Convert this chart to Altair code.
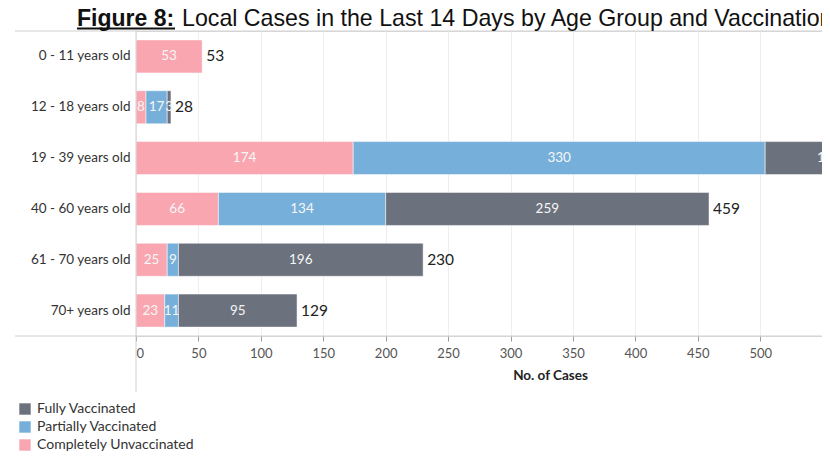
import altair as alt
import pandas as pd

ages = ["0 - 11 years old", "12 - 18 years old", "19 - 39 years old",
        "40 - 60 years old", "61 - 70 years old", "70+ years old"]
unvaccinated = [53, 8, 174, 66, 25, 23]
partially = [0, 17, 330, 134, 9, 11]
fully = [0, 3, 102, 259, 196, 95]

statuses = ["Fully Vaccinated", "Partially Vaccinated", "Completely Unvaccinated"]
colors = ["#6b717d", "#76b0da", "#f9a6b1"]
stack_order = {"Completely Unvaccinated": 0, "Partially Vaccinated": 1, "Fully Vaccinated": 2}

rows = []
for i, a in enumerate(ages):
    for s, vals in (("Completely Unvaccinated", unvaccinated),
                    ("Partially Vaccinated", partially),
                    ("Fully Vaccinated", fully)):
        if vals[i] > 0:
            rows.append({"age": a, "status": s, "value": vals[i], "ord": stack_order[s]})
df = pd.DataFrame(rows)

W, H = 686, 305
XMAX = W / 1.2484

xscale = alt.Scale(domain=[0, XMAX], nice=False, zero=True)
yscale = alt.Scale(domain=ages, paddingInner=0.35, paddingOuter=0.175)

base = alt.Chart(df)

bars = base.mark_bar(stroke="white", strokeWidth=0.5).encode(
    y=alt.Y("age:N", scale=yscale, sort=ages,
            axis=alt.Axis(title=None, domain=False, ticks=False, labelPadding=6,
                          labelFont="Lato", labelFontSize=13.5, labelColor="#333333",
                          grid=False)),
    x=alt.X("value:Q", stack="zero", scale=xscale,
            axis=alt.Axis(values=list(range(0, 551, 50)), title="No. of Cases",
                          domain=False, tickSize=5, tickColor="#9a9a9a",
                          labelFont="Lato", labelFontSize=13, labelColor="#555555",
                          labelFlush=True, labelPadding=6,
                          gridColor="#eeeeee", grid=True,
                          titleFont="Lato", titleFontSize=13.5, titleFontWeight="bold",
                          titleColor="#222222", titleX=414, titleY=43,
                          titleBaseline="alphabetic")),
    color=alt.Color("status:N", scale=alt.Scale(domain=statuses, range=colors),
                    legend=alt.Legend(title=None, orient="none", legendX=-118, legendY=371,
                                      symbolType="square", symbolSize=130,
                                      symbolStrokeWidth=0, labelFont="Lato",
                                      labelFontSize=14, labelColor="#333333",
                                      rowPadding=4, labelOffset=5)),
    order=alt.Order("ord:Q", sort="ascending"),
)

seg_labels = base.transform_stack(
    stack="value", groupby=["age"], as_=["x0", "x1"],
    sort=[alt.SortField("ord", order="ascending")]
).transform_calculate(mid="(datum.x0 + datum.x1) / 2").mark_text(
    color="#f6f6f6", font="Lato", fontSize=13.5, align="center", baseline="middle"
).encode(
    y=alt.Y("age:N", scale=yscale, sort=ages),
    x=alt.X("mid:Q", scale=xscale),
    text=alt.Text("value:Q"),
)

totals = base.transform_aggregate(total="sum(value)", groupby=["age"]).mark_text(
    color="#222222", font="Lato", fontSize=15.5, align="left", baseline="middle", dx=4
).encode(
    y=alt.Y("age:N", scale=yscale, sort=ages),
    x=alt.X("total:Q", scale=xscale),
    text=alt.Text("total:Q"),
)

one = pd.DataFrame({"k": [0]})
top_line = alt.Chart(one).mark_rule(color="#d0d0d0", strokeWidth=1).encode(
    x=alt.value(-121), x2=alt.value(W), y=alt.value(0))
axis_line = alt.Chart(one).mark_rule(color="#d0d0d0", strokeWidth=1).encode(
    x=alt.value(-121), x2=alt.value(W), y=alt.value(H))
left_line = alt.Chart(one).mark_rule(color="#d0d0d0", strokeWidth=1).encode(
    x=alt.value(0), y=alt.value(0), y2=alt.value(361))

title_bold = alt.Chart(pd.DataFrame({"t": ["Figure 8:"]})).mark_text(
    font="Liberation Sans", fontSize=23, fontWeight="bold", align="left",
    baseline="alphabetic", color="#111111"
).encode(x=alt.value(-59), y=alt.value(-5.5), text="t:N")
title_rest = alt.Chart(pd.DataFrame({"t": ["Local Cases in the Last 14 Days by Age Group and Vaccination"]})).mark_text(
    font="Liberation Sans", fontSize=23.2, align="left", baseline="alphabetic", color="#111111"
).encode(x=alt.value(46), y=alt.value(-5.5), text="t:N")
underline = alt.Chart(one).mark_rule(color="#111111", strokeWidth=1.8).encode(
    x=alt.value(-59), x2=alt.value(39), y=alt.value(-2.5))

chart = alt.layer(
    bars, seg_labels, totals, top_line, axis_line, left_line,
    title_bold, title_rest, underline
).properties(
    width=W, height=H,
    autosize=alt.AutoSizeParams(type="none"),
    padding={"left": 128, "top": 23, "right": 0, "bottom": 122},
).configure_view(stroke=None).configure(background="white")

chart.save("out.html", embed_options={"renderer": "svg", "actions": False})
